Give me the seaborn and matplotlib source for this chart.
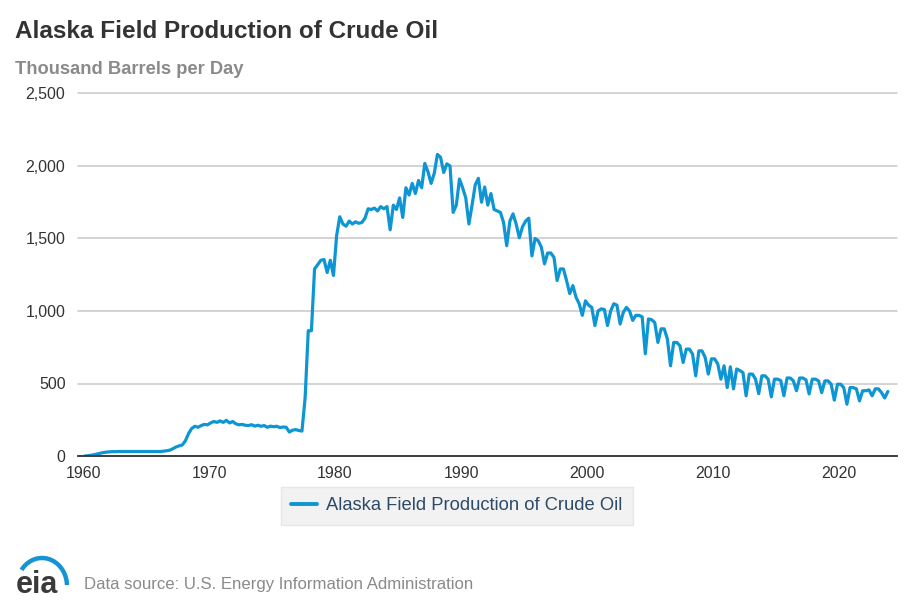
import numpy as np
import pandas as pd
import matplotlib
matplotlib.use("Agg")
import matplotlib.pyplot as plt
from matplotlib.ticker import FuncFormatter
import seaborn as sns

# Quarterly values (thousand barrels per day)
years = list(range(1960, 2024))
q_values = [
    [0, 2, 5, 9],            # 1960
    [14, 19, 24, 27],        # 1961
    [29, 30, 30, 31],        # 1962
    [31, 31, 31, 31],        # 1963
    [31, 31, 31, 31],        # 1964
    [31, 31, 31, 31],        # 1965
    [31, 33, 36, 40],        # 1966
    [50, 62, 70, 76],        # 1967
    [105, 155, 190, 205],    # 1968
    [198, 210, 218, 215],    # 1969
    [228, 238, 232, 242],    # 1970
    [232, 246, 228, 238],    # 1971
    [222, 215, 218, 212],    # 1972
    [210, 216, 206, 212],    # 1973
    [205, 210, 198, 206],    # 1974
    [202, 205, 196, 200],    # 1975
    [198, 165, 178, 182],    # 1976
    [176, 172, 400, 864],    # 1977
    [864, 1290, 1320, 1350], # 1978
    [1355, 1265, 1350, 1245],# 1979
    [1520, 1650, 1600, 1585],# 1980
    [1620, 1600, 1615, 1605],# 1981
    [1610, 1640, 1705, 1700],# 1982
    [1710, 1690, 1720, 1705],# 1983
    [1720, 1560, 1730, 1700],# 1984
    [1780, 1645, 1850, 1800],# 1985
    [1880, 1810, 1900, 1850],# 1986
    [2018, 1960, 1880, 1950],# 1987
    [2080, 2060, 1955, 2015],# 1988
    [2000, 1680, 1730, 1910],# 1989
    [1850, 1780, 1600, 1730],# 1990
    [1870, 1915, 1750, 1855],# 1991
    [1730, 1810, 1700, 1690],# 1992
    [1680, 1610, 1450, 1620],# 1993
    [1670, 1600, 1505, 1580],# 1994
    [1620, 1640, 1380, 1500],# 1995
    [1485, 1440, 1325, 1400],# 1996
    [1400, 1370, 1210, 1290],# 1997
    [1290, 1210, 1120, 1175],# 1998
    [1095, 1050, 970, 1070], # 1999
    [1040, 1025, 900, 1000], # 2000
    [1015, 1010, 900, 1000], # 2001
    [1050, 1040, 910, 990],  # 2002
    [1025, 1000, 935, 970],  # 2003
    [970, 960, 705, 945],    # 2004
    [940, 920, 783, 877],    # 2005
    [877, 808, 622, 783],    # 2006
    [783, 760, 645, 737],    # 2007
    [737, 703, 553, 725],    # 2008
    [725, 680, 565, 670],    # 2009
    [670, 635, 530, 622],    # 2010
    [472, 615, 463, 600],    # 2011
    [590, 575, 415, 565],    # 2012
    [565, 530, 430, 553],    # 2013
    [553, 530, 408, 530],    # 2014
    [530, 520, 415, 538],    # 2015
    [538, 518, 450, 538],    # 2016
    [538, 525, 428, 530],    # 2017
    [530, 518, 437, 518],    # 2018
    [518, 495, 385, 495],    # 2019
    [495, 472, 357, 472],    # 2020
    [472, 463, 380, 450],    # 2021
    [450, 456, 415, 463],    # 2022
    [463, 437, 400, 445],    # 2023
]
quarter_offsets = [0.125, 0.375, 0.625, 0.875]
y_ticks = [0, 500, 1000, 1500, 2000, 2500]
x_ticks = [1960, 1970, 1980, 1990, 2000, 2010, 2020]
series_name = "Alaska Field Production of Crude Oil"

rows = []
for yr, vals in zip(years, q_values):
    for off, v in zip(quarter_offsets, vals):
        rows.append({"year": yr + off, "value": v})
df = pd.DataFrame(rows)

sns.set_style("white")
plt.rcParams["font.family"] = ["Liberation Sans", "DejaVu Sans"]

fig = plt.figure(figsize=(9.14, 6.09), dpi=100)
ax = fig.add_axes([78/914, 1-456/609, (897-78)/914, (456-93.5)/609])

line_color = "#0e96d4"
sns.lineplot(data=df, x="year", y="value", ax=ax, color=line_color,
             linewidth=2.3, label=series_name)

ax.set_xlim(1959.6, 2024.6)
ax.set_ylim(0, 2500)
ax.set_yticks(y_ticks)
ax.set_xticks(x_ticks)
ax.yaxis.set_major_formatter(FuncFormatter(lambda v, p: f"{int(v):,}"))
ax.grid(axis="y", color="#c8c8c8", linewidth=1.1)
ax.grid(axis="x", visible=False)
for gl in ax.get_ygridlines():
    gl.set_clip_on(False)
ax.set_axisbelow(True)
for s in ["top", "right", "left"]:
    ax.spines[s].set_visible(False)
ax.spines["bottom"].set_color("#333333")
ax.spines["bottom"].set_linewidth(1.3)
ax.spines["bottom"].set_zorder(5)
ax.tick_params(axis="x", length=6, width=1.1, color="#333333", pad=1,
               labelsize=11.5, labelcolor="#333333", direction="out")
ax.tick_params(axis="y", length=0, pad=9, labelsize=11.5, labelcolor="#333333")
ax.set_xlabel("")
ax.set_ylabel("")
ax.get_legend().remove()

handles, labels = ax.get_legend_handles_labels()
leg = fig.legend(handles, labels, loc="center", bbox_to_anchor=(0.5, 1-506/609),
                 frameon=True, fancybox=False, fontsize=13.2, handlelength=1.4,
                 handletextpad=0.5, borderpad=0.55, borderaxespad=0)
leg.get_frame().set_facecolor("#efefef")
leg.get_frame().set_edgecolor("#e2e2e2")
leg.get_frame().set_linewidth(1.0)
for t in leg.get_texts():
    t.set_color("#2d4a67")
for h in leg.get_lines():
    h.set_linewidth(2.8)

fig.text(15/914, 1-32/609, "Alaska Field Production of Crude Oil",
         fontsize=17.5, fontweight="bold", color="#333333", va="center", ha="left")
fig.text(15/914, 1-70/609, "Thousand Barrels per Day",
         fontsize=13.2, fontweight="bold", color="#8a8a8a", va="center", ha="left")
fig.text(84/914, 1-585/609, "Data source: U.S. Energy Information Administration",
         fontsize=12.1, color="#8a8a8a", va="center", ha="left")

# eia logo
fig.text(16/914, 1-585/609, "eia", fontsize=22, fontweight="bold",
         color="#3a3a3a", va="center", ha="left")
lax = fig.add_axes([0, 0, 80/914, 69/609])
lax.set_xlim(0, 80)
lax.set_ylim(609, 540)
lax.axis("off")
t = np.linspace(np.deg2rad(215), np.deg2rad(358), 60)
cx, cy, rx, ry = 42, 586, 25, 28
lax.plot(cx + rx*np.cos(t), cy + ry*np.sin(t), color="#1594d3", linewidth=3.2,
         solid_capstyle="butt")

fig.savefig("out.png", dpi=100)
